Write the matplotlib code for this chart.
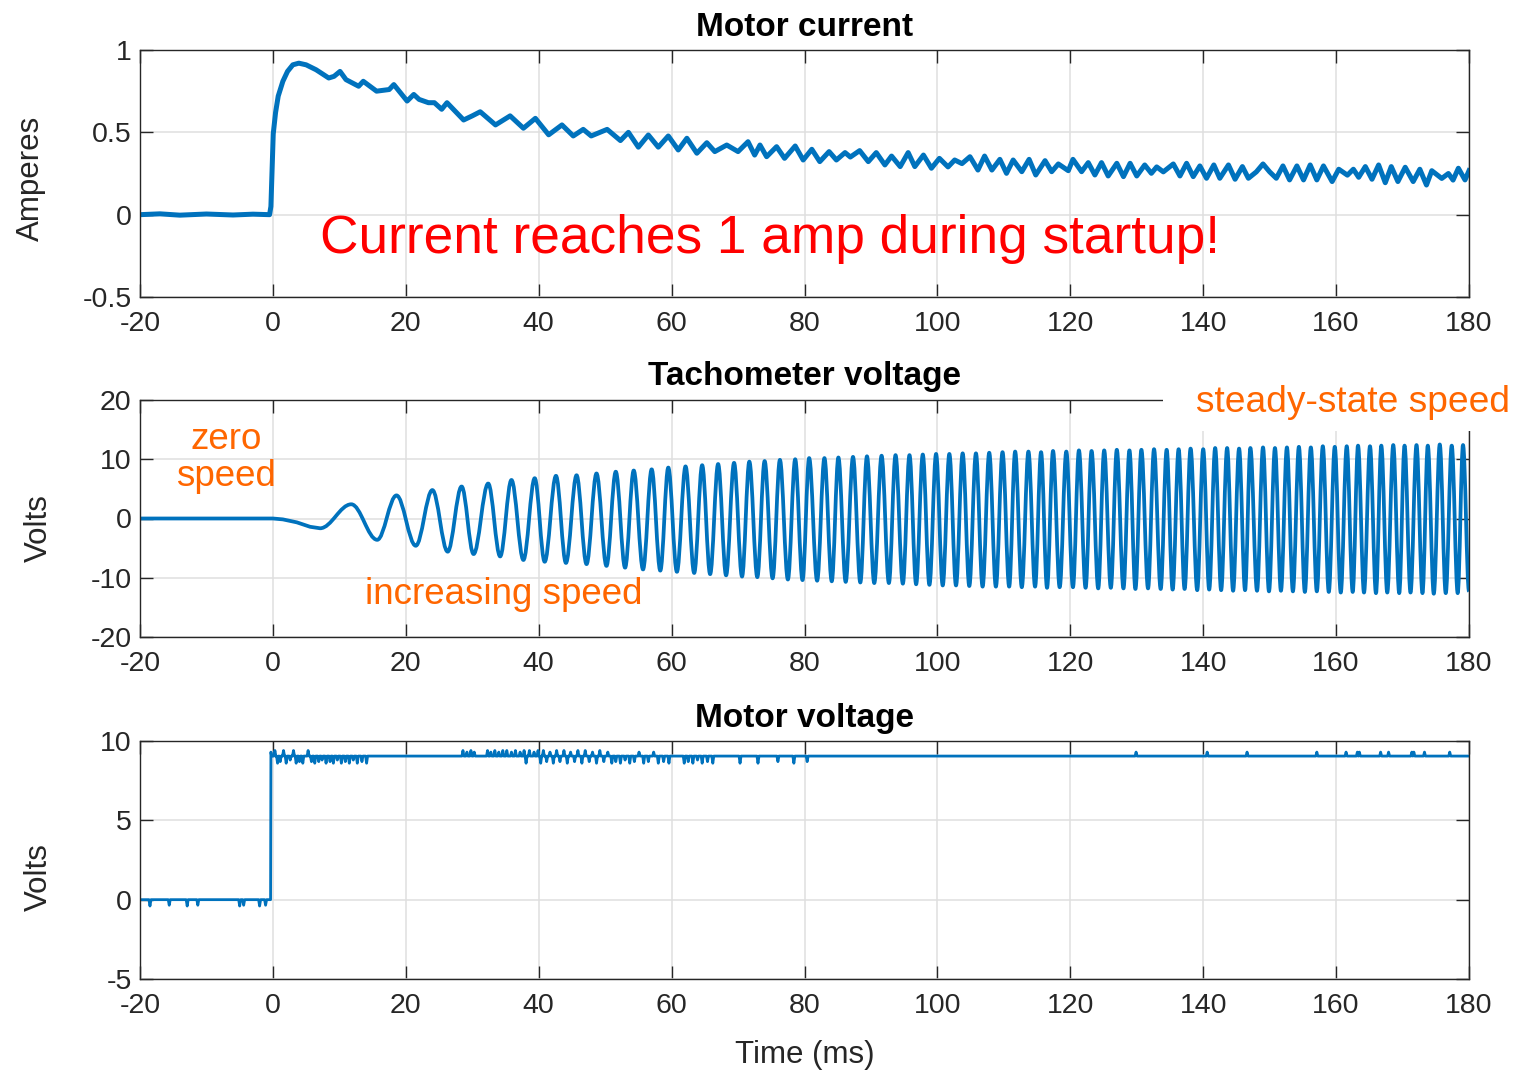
import matplotlib
matplotlib.use("Agg")
import matplotlib.pyplot as plt
from matplotlib.path import Path
from matplotlib.patches import PathPatch, Rectangle

plt.rcParams['font.family'] = ['Liberation Sans', 'DejaVu Sans']
plt.rcParams['axes.unicode_minus'] = False

# ---------------- data ----------------
x_ticks = [-20, 0, 20, 40, 60, 80, 100, 120, 140, 160, 180]
cur_yticks = [-0.5, 0, 0.5, 1]
tach_yticks = [-20, -10, 0, 10, 20]
mv_yticks = [-5, 0, 5, 10]

# Motor current (ms, A)
cur_t = [-20, -17, -14, -10, -6, -3, -0.5, -0.3, -0.1, 0.05, 0.4, 0.8, 1.5, 2.2, 3.0, 3.9, 5.0,
         6.5, 8.4, 9.2, 10.1, 11.0, 12.9, 13.6, 15.6, 17.5, 18.2, 19.0, 20.2, 21.2, 22.0, 23.4,
         24.3, 25.4, 26.2, 28.7, 30.0, 31.2, 33.5, 35.7, 37.7, 39.5, 41.5, 43.5, 45.2, 46.7,
         47.9, 50.3, 52.3, 53.5, 55.0, 56.5, 58.0, 59.5, 61.0, 62.3, 63.8, 65.3, 66.5, 68.3,
         70.0, 71.5, 72.5, 73.3, 74.3, 75.8, 77.0, 78.6, 79.8, 81.1, 82.3, 83.7, 84.8, 86.1,
         86.9, 88.3, 89.6, 90.8, 92.1, 93.1, 94.4, 95.6, 96.6, 97.9, 99.1, 100.3, 101.6, 102.6,
         103.7, 104.9, 106.1, 107.1, 108.2, 109.4, 110.4, 111.4, 112.7, 113.8, 114.8, 116.2,
         117.2, 118.2, 119.7, 120.4, 121.7, 122.7, 123.7, 124.7, 125.7, 127.0, 128.0, 129.0,
         130.0, 131.2, 132.2, 133.0, 134.0, 135.5, 136.5, 137.5, 138.5, 139.5, 140.5, 141.6,
         142.5, 143.8, 144.8, 145.9, 146.8, 148.0, 149.0, 150.0, 151.0, 152.0, 153.0, 154.1,
         155.1, 156.1, 157.1, 158.1, 159.4, 160.4, 161.7, 162.6, 163.4, 164.4, 165.4, 166.4,
         167.4, 168.3, 169.3, 170.4, 171.6, 172.6, 173.6, 174.4, 175.9, 176.9, 177.6, 178.4,
         179.4, 180.0]
cur_a = [0.0, 0.005, -0.003, 0.004, -0.002, 0.003, 0.0, 0.05, 0.3, 0.49, 0.62, 0.72, 0.81, 0.87,
         0.91, 0.92, 0.91, 0.88, 0.83, 0.84, 0.87, 0.82, 0.78, 0.81, 0.75, 0.76, 0.79, 0.75, 0.69,
         0.73, 0.70, 0.68, 0.68, 0.64, 0.68, 0.575, 0.60, 0.625, 0.545, 0.60, 0.525, 0.585, 0.485,
         0.545, 0.478, 0.518, 0.478, 0.518, 0.45, 0.50, 0.41, 0.484, 0.41, 0.478, 0.393, 0.464,
         0.373, 0.437, 0.383, 0.423, 0.383, 0.443, 0.362, 0.423, 0.352, 0.413, 0.342, 0.417,
         0.332, 0.397, 0.322, 0.383, 0.332, 0.377, 0.35, 0.389, 0.322, 0.377, 0.302, 0.356,
         0.292, 0.377, 0.292, 0.362, 0.282, 0.342, 0.29, 0.332, 0.31, 0.352, 0.271, 0.356,
         0.271, 0.336, 0.251, 0.332, 0.261, 0.336, 0.241, 0.328, 0.261, 0.308, 0.267, 0.336,
         0.261, 0.316, 0.241, 0.316, 0.235, 0.312, 0.231, 0.312, 0.235, 0.302, 0.251, 0.29,
         0.26, 0.308, 0.235, 0.312, 0.231, 0.296, 0.221, 0.302, 0.221, 0.302, 0.215, 0.292,
         0.221, 0.26, 0.308, 0.26, 0.221, 0.296, 0.211, 0.296, 0.211, 0.302, 0.211, 0.296,
         0.201, 0.276, 0.24, 0.276, 0.227, 0.292, 0.215, 0.302, 0.194, 0.292, 0.201, 0.288,
         0.201, 0.276, 0.180, 0.267, 0.22, 0.25, 0.21, 0.282, 0.211, 0.267]

# Tachometer voltage: flat lead-in, then troughs / peaks (ms, V)
tach_lead_t = [-20, -10, 0, 1.5, 3.6, 5.6]
tach_lead_v = [0.0, 0.0, 0.0, -0.15, -0.65, -1.4]
tach_trough_t = [7.1, 15.7, 21.5, 26.3, 30.2, 34.2, 37.7, 40.9, 44.1, 47.2,
                 50.2, 53.0, 55.7, 58.3, 60.8, 63.4, 65.8, 68.2, 70.6, 72.9,
                 75.2, 77.5, 79.7, 81.9, 84.1, 86.2, 88.4, 90.5, 92.7, 94.8,
                 96.8, 98.8, 100.8, 102.8, 104.8, 106.8, 108.8, 110.8, 112.7, 114.7,
                 116.5, 118.4, 120.4, 122.3, 124.2, 126.1, 128.0, 129.8, 131.7, 133.6,
                 135.4, 137.2, 139.1, 140.9, 142.7, 144.5, 146.3, 148.1, 149.9, 151.7,
                 153.5, 155.3, 157.1, 158.9, 160.7, 162.5, 164.2, 166.0, 167.7, 169.5,
                 171.2, 173.0, 174.7, 176.5, 178.3]
tach_trough_v = [-1.65, -3.6, -4.6, -5.6, -6.0, -6.4, -7.0, -7.3, -7.5, -7.7,
                 -8.0, -8.3, -8.6, -8.8, -9.0, -9.2, -9.4, -9.6, -9.8, -9.9,
                 -10.1, -10.3, -10.4, -10.5, -10.6, -10.7, -10.8, -10.9, -10.9, -11.0,
                 -11.1, -11.2, -11.3, -11.3, -11.4, -11.5, -11.5, -11.5, -11.6, -11.5,
                 -11.7, -11.6, -11.6, -11.7, -11.8, -11.7, -11.8, -11.9, -11.8, -11.9,
                 -12.0, -11.9, -12.1, -12.0, -12.1, -12.2, -12.1, -12.2, -12.3, -12.2,
                 -12.3, -12.4, -12.3, -12.4, -12.5, -12.4, -12.5, -12.6, -12.5, -12.6,
                 -12.5, -12.6, -12.7, -12.6, -12.6]
tach_peak_t = [11.8, 18.6, 24.0, 28.4, 32.4, 35.9, 39.4, 42.6, 45.7, 48.7,
               51.6, 54.3, 57.0, 59.5, 62.1, 64.6, 67.0, 69.4, 71.7, 74.0,
               76.3, 78.6, 80.7, 83.0, 85.1, 87.3, 89.4, 91.6, 93.7, 95.8,
               97.8, 99.8, 101.8, 103.8, 105.8, 107.8, 109.8, 111.7, 113.7, 115.6,
               117.4, 119.4, 121.3, 123.2, 125.1, 127.0, 128.9, 130.7, 132.6, 134.5,
               136.3, 138.1, 140.0, 141.8, 143.6, 145.4, 147.1, 149.0, 150.8, 152.6,
               154.4, 156.2, 158.0, 159.8, 161.6, 163.3, 165.1, 166.8, 168.6, 170.3,
               172.1, 173.8, 175.6, 177.4, 179.1]
tach_peak_v = [2.4, 3.9, 4.8, 5.4, 5.9, 6.5, 6.8, 7.2, 7.3, 7.6,
               7.9, 8.1, 8.3, 8.6, 8.8, 9.0, 9.2, 9.4, 9.6, 9.7,
               9.9, 10.0, 10.2, 10.2, 10.3, 10.4, 10.5, 10.6, 10.7, 10.7,
               10.8, 10.9, 10.9, 11.0, 11.0, 11.1, 11.2, 11.3, 11.3, 11.2,
               11.4, 11.3, 11.5, 11.4, 11.5, 11.6, 11.5, 11.6, 11.7, 11.6,
               11.7, 11.8, 11.7, 11.9, 11.9, 11.8, 11.9, 12.0, 11.9, 12.0,
               12.1, 12.0, 12.2, 12.1, 12.2, 12.3, 12.2, 12.3, 12.4, 12.3,
               12.4, 12.3, 12.5, 12.3, 12.4]
tach_end_t = 180.0
tach_end_v = -12.3

# Motor voltage: step and spikes (ms, V)
mv_step_t = [-20, -0.35, -0.3, -0.2]
mv_step_v = [0.0, 0.0, 9.3, 9.05]
mv_level_off = 0.0
mv_level_on = 9.05
mv_spike_t = [-18.5, -15.6, -12.9, -11.3, -5.0, -4.4, -2.0, -1.1,
              0.3, 0.7, 1.1, 1.6, 2.0, 2.6, 3.1, 3.5, 4.0, 4.5, 5.3, 5.8, 6.3, 6.9, 7.4, 8.0,
              8.6, 9.1, 9.7, 10.3, 10.9, 11.5, 12.1, 12.7, 13.4, 14.1,
              28.6, 29.2, 29.8, 30.3,
              32.3, 32.8, 33.4, 34.0, 34.6, 35.2, 35.9, 36.5, 37.2, 37.8, 38.1, 38.6, 39.3,
              39.9, 40.3, 40.7, 41.2, 41.7, 42.2, 42.7, 43.2, 43.8, 44.3, 44.8, 45.4, 45.9,
              46.5, 47.0, 47.6, 48.1, 48.7, 49.2, 49.8, 50.4, 51.0, 51.6, 52.3, 53.0, 53.7,
              54.4, 55.1, 55.8, 56.5, 57.3, 58.0, 58.8, 59.6,
              61.9, 62.5, 63.2, 63.9, 64.6, 65.4, 66.2,
              70.3, 73.0, 76.0, 78.4, 80.4,
              129.9, 140.6, 146.6, 157.1, 161.5, 163.2, 163.5, 166.7, 167.9, 171.4, 171.7,
              173.3, 177.1]
mv_spike_v = [-0.4, -0.35, -0.4, -0.35, -0.4, -0.35, -0.4, -0.35,
              9.4, 8.6, 8.7, 9.4, 8.6, 8.8, 9.4, 8.6, 8.7, 8.6, 9.4, 8.7, 8.6, 8.7, 8.8, 8.6,
              8.7, 8.6, 8.8, 8.6, 8.7, 8.6, 8.8, 8.6, 8.7, 8.6,
              9.4, 9.3, 9.4, 9.3,
              9.4, 9.3, 9.4, 9.3, 9.4, 9.4, 9.3, 9.4, 9.3, 9.4, 8.6, 9.4, 9.3,
              9.4, 8.6, 9.4, 8.7, 9.3, 8.6, 9.4, 8.7, 9.4, 8.6, 9.3, 8.7, 9.4,
              8.6, 9.4, 8.7, 9.3, 8.6, 9.4, 8.7, 9.3, 8.6, 8.7, 8.6, 8.8, 8.6,
              8.7, 9.3, 8.6, 8.7, 9.3, 8.6, 8.7, 8.6,
              8.6, 8.7, 8.6, 8.8, 8.6, 8.7, 8.6,
              8.6, 8.6, 8.7, 8.6, 8.7,
              9.3, 9.3, 9.3, 9.3, 9.3, 9.3, 9.3, 9.3, 9.3, 9.3, 9.3,
              9.3, 9.3]

# ---------------- style ----------------
BLUE = '#0072BD'
ORANGE = '#FF6600'
AXC = '#262626'
GRIDC = '#DFDFDF'
W, H = 1515, 1072

fig = plt.figure(figsize=(W / 100, H / 100), dpi=100)

def axes_px(left, top, right, bottom):
    return fig.add_axes([left / W, 1 - bottom / H, (right - left) / W, (bottom - top) / H])

ax1 = axes_px(140, 50, 1469, 297)
ax2 = axes_px(140, 400, 1469, 637)
ax3 = axes_px(140, 741, 1469, 979)

def style(ax, yticks, ylabels, ylim):
    ax.set_xlim(-20, 180)
    ax.set_ylim(*ylim)
    ax.set_xticks(x_ticks)
    ax.set_xticklabels([str(v) for v in x_ticks])
    ax.set_yticks(yticks)
    ax.set_yticklabels(ylabels)
    ax.tick_params(direction='in', length=9.5, width=1.0, colors=AXC, labelsize=20.5,
                   top=True, right=True)
    ax.tick_params(axis='x', pad=10)
    ax.tick_params(axis='y', pad=6)
    for s in ax.spines.values():
        s.set_color(AXC)
        s.set_linewidth(1.0)
    ax.grid(True, color=GRIDC, linewidth=1.1)
    ax.set_axisbelow(True)

style(ax1, cur_yticks, ['-0.5', '0', '0.5', '1'], (-0.5, 1))
style(ax2, tach_yticks, ['-20', '-10', '0', '10', '20'], (-20, 20))
style(ax3, mv_yticks, ['-5', '0', '5', '10'], (-5, 10))

TITLE_KW = dict(ha='center', va='center', fontsize=24, fontweight='bold', color='black')

# ---- Motor current
ax1.plot(cur_t, cur_a, color=BLUE, lw=3.6, solid_joinstyle='round')
ax1.text(0.5, 1 + 23 / 247, 'Motor current', transform=ax1.transAxes, **TITLE_KW)
ax1.set_ylabel('Amperes', fontsize=22.5, color=AXC)
ax1.yaxis.set_label_coords(-0.0707, 0.482)
ax1.text(7.1, -0.145, 'Current reaches 1 amp during startup!', color='red',
         fontsize=38.3, ha='left', va='center')

# ---- Tachometer voltage (smooth curve through extrema)
verts = [(tach_lead_t[0], tach_lead_v[0])]
codes = [Path.MOVETO]
for t, v in zip(tach_lead_t[1:], tach_lead_v[1:]):
    verts.append((t, v))
    codes.append(Path.LINETO)
ext = []
for i in range(len(tach_trough_t)):
    ext.append((tach_trough_t[i], tach_trough_v[i]))
    ext.append((tach_peak_t[i], tach_peak_v[i]))
ext.append((tach_end_t, tach_end_v))
verts.append(ext[0])
codes.append(Path.LINETO)
k = 0.36
for (t0, v0), (t1, v1) in zip(ext[:-1], ext[1:]):
    dt = t1 - t0
    verts += [(t0 + k * dt, v0), (t1 - k * dt, v1), (t1, v1)]
    codes += [Path.CURVE4] * 3
ax2.add_patch(PathPatch(Path(verts, codes), facecolor='none', edgecolor=BLUE, lw=2.7,
                        joinstyle='round'))
ax2.text(0.5, 1 + 23 / 237, 'Tachometer voltage', transform=ax2.transAxes, **TITLE_KW)
ax2.set_ylabel('Volts', fontsize=22.5, color=AXC)
ax2.yaxis.set_label_coords(-0.0647, 0.46)
ax2.text(-7.1, 10.2, 'zero\nspeed', color=ORANGE, fontsize=26.5, ha='center', va='center',
         linespacing=1.1)
ax2.text(13.85, -12.9, 'increasing speed', color=ORANGE, fontsize=26.5, ha='left',
         va='center')
# white background box of the "steady-state speed" label (covers the frame)
ax2.add_patch(Rectangle((133.9, 14.8), 60, 12, facecolor='white', edgecolor='none',
                        zorder=10, clip_on=False))
ax2.text(138.9, 19.6, 'steady-state speed', color=ORANGE, fontsize=26.7, ha='left',
         va='center', zorder=11, clip_on=False)

# ---- Motor voltage
pre_t, pre_v, post_t, post_v = [], [], [], []
for t, v in zip(mv_spike_t, mv_spike_v):
    base = mv_level_off if t < 0 else mv_level_on
    seg_t = [t - 0.15, t, t + 0.15]
    seg_v = [base, v, base]
    if t < 0:
        pre_t += seg_t
        pre_v += seg_v
    else:
        post_t += seg_t
        post_v += seg_v
mv_t = mv_step_t[:1] + pre_t + mv_step_t[1:] + post_t + [180]
mv_v = mv_step_v[:1] + pre_v + mv_step_v[1:] + post_v + [mv_level_on]
ax3.plot(mv_t, mv_v, color=BLUE, lw=2.0, solid_joinstyle='round')
ax3.text(0.5, 1 + 23 / 238, 'Motor voltage', transform=ax3.transAxes, **TITLE_KW)
ax3.set_ylabel('Volts', fontsize=22.5, color=AXC)
ax3.yaxis.set_label_coords(-0.0647, 0.43)
ax3.set_xlabel('Time (ms)', fontsize=22.5, color=AXC)
ax3.xaxis.set_label_coords(0.5, -0.258)

fig.savefig('out.png', dpi=100, facecolor='white')
